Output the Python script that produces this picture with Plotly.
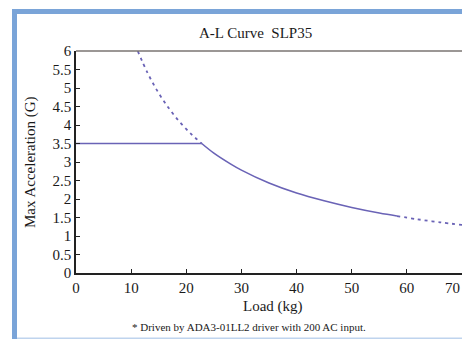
import plotly.graph_objects as go

# ---- data ----
flat_load = [0, 22.8]
flat_acc = [3.5, 3.5]

upper_load = [11.2, 13, 15, 17, 19, 21, 22.8]
upper_acc = [6.0, 5.40, 4.86, 4.42, 4.05, 3.74, 3.50]

mid_load = [22.8, 25, 28, 30, 35, 40, 45, 50, 55, 58.2]
mid_acc = [3.50, 3.24, 2.95, 2.78, 2.43, 2.16, 1.95, 1.77, 1.62, 1.54]

tail_load = [58.2, 62, 66, 70]
tail_acc = [1.54, 1.45, 1.37, 1.30]

x_ticks = [0, 10, 20, 30, 40, 50, 60, 70]
y_ticks = [0, 0.5, 1, 1.5, 2, 2.5, 3, 3.5, 4, 4.5, 5, 5.5, 6]
y_tick_text = ["0", "0.5", "1", "1.5", "2", "2.5", "3", "3.5", "4", "4.5", "5", "5.5", "6"]

W, H = 462, 339
L, R, T, B = 76, 0, 51, 66
PW, PH = W - L - R, H - T - B

def px(x):
    return (x - L) / PW

def py(y):
    return (H - B - y) / PH

col = "#6A63B6"
font = "Liberation Serif"

fig = go.Figure()
fig.add_trace(go.Scatter(x=flat_load, y=flat_acc, mode="lines",
                         line=dict(color=col, width=1.6), hoverinfo="skip"))
fig.add_trace(go.Scatter(x=upper_load, y=upper_acc, mode="lines", line_shape="spline",
                         line=dict(color=col, width=1.8, dash="3px,4px"), hoverinfo="skip"))
fig.add_trace(go.Scatter(x=mid_load, y=mid_acc, mode="lines", line_shape="spline",
                         line=dict(color=col, width=1.6), hoverinfo="skip"))
fig.add_trace(go.Scatter(x=tail_load, y=tail_acc, mode="lines", line_shape="spline",
                         line=dict(color=col, width=1.8, dash="3px,4px"), hoverinfo="skip"))

fig.update_layout(
    width=W, height=H,
    margin=dict(l=L, r=R, t=T, b=B),
    paper_bgcolor="white", plot_bgcolor="white",
    showlegend=False,
    font=dict(family=font, size=14, color="#1a1a1a"),
    xaxis=dict(range=[0, 70], tickvals=x_ticks, ticks="inside", ticklen=4,
               tickcolor="#222", showline=True, linecolor="#222", linewidth=1.5,
               showgrid=False, zeroline=False, automargin=False, ticklabelstandoff=0,
               tickfont=dict(family=font, size=15)),
    yaxis=dict(range=[0, 6], tickvals=y_ticks, ticktext=y_tick_text, ticks="inside",
               ticklen=4, tickcolor="#222", showline=True, linecolor="#222",
               linewidth=1.5, showgrid=False, zeroline=False, automargin=False,
               tickfont=dict(family=font, size=15)),
    shapes=[
        dict(type="line", xref="paper", yref="paper", x0=0, x1=1, y0=1, y1=1,
             line=dict(color="#7a7472", width=1.5)),
        dict(type="rect", xref="paper", yref="paper", x0=px(12), x1=px(17),
             y0=py(339), y1=py(9), fillcolor="#7AA4D8", line=dict(width=0), layer="above"),
        dict(type="rect", xref="paper", yref="paper", x0=px(12), x1=px(462),
             y0=py(14), y1=py(9), fillcolor="#7AA4D8", line=dict(width=0), layer="above"),
        dict(type="rect", xref="paper", yref="paper", x0=px(17), x1=px(462),
             y0=py(339), y1=py(337.5), fillcolor="#BFD4EE", line=dict(width=0), layer="above"),
    ],
    annotations=[
        dict(text=str(x_ticks[-1]), xref="x", yref="paper", x=x_ticks[-1], y=py(288),
             showarrow=False, font=dict(family=font, size=15, color="#1a1a1a"),
             xanchor="right", yanchor="middle"),
        dict(text="A-L Curve  SLP35", xref="paper", yref="paper", x=px(255), y=py(33),
             showarrow=False, font=dict(family=font, size=15, color="#1a1a1a"),
             xanchor="center", yanchor="middle"),
        dict(text="Max Acceleration (G)", xref="paper", yref="paper", x=px(30),
             y=py(162), textangle=-90, showarrow=False,
             font=dict(family=font, size=15, color="#1a1a1a"),
             xanchor="center", yanchor="middle"),
        dict(text="Load (kg)", xref="paper", yref="paper", x=px(273), y=py(306),
             showarrow=False, font=dict(family=font, size=15, color="#1a1a1a"),
             xanchor="center", yanchor="middle"),
        dict(text="* Driven by ADA3-01LL2 driver with 200 AC input.", xref="paper",
             yref="paper", x=px(249), y=py(327), showarrow=False,
             font=dict(family=font, size=11, color="#1a1a1a"),
             xanchor="center", yanchor="middle"),
    ],
)

fig.write_html("out.html", config={"displayModeBar": False},
               post_script="document.body.style.margin='0';document.body.style.overflow='hidden';")
